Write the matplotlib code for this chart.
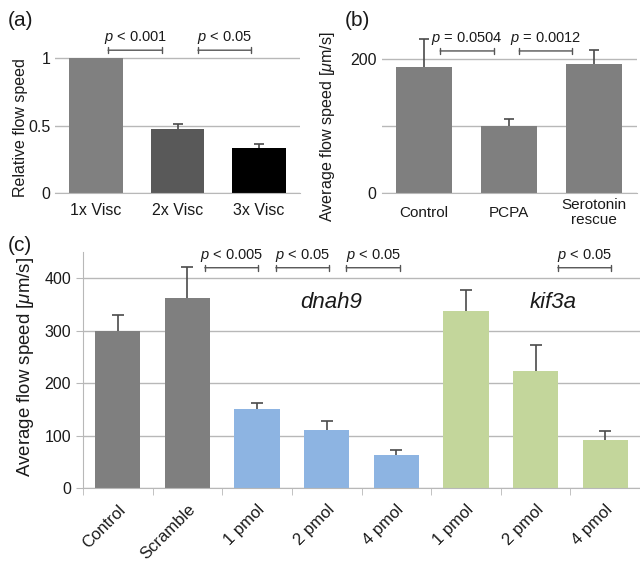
import numpy as np
import matplotlib
matplotlib.use("Agg")
import matplotlib.pyplot as plt

plt.rcParams["font.family"] = ["Liberation Sans", "DejaVu Sans"]
plt.rcParams["mathtext.fontset"] = "custom"
plt.rcParams["mathtext.it"] = "Liberation Sans:italic"
plt.rcParams["mathtext.rm"] = "Liberation Sans"

# panel (a)
visc_labels = ["1x Visc", "2x Visc", "3x Visc"]
visc_values = [1.0, 0.48, 0.335]
visc_err = [0.0, 0.035, 0.03]
visc_colors = ["#808080", "#595959", "#000000"]

# panel (b)
pcpa_labels = ["Control", "PCPA", "Serotonin\nrescue"]
pcpa_values = [188, 100, 193]
pcpa_err = [42, 11, 21]

# panel (c)
kd_labels = ["Control", "Scramble", "1 pmol", "2 pmol", "4 pmol", "1 pmol", "2 pmol", "4 pmol"]
kd_values = [300, 362, 150, 110, 62, 337, 223, 91]
kd_err = [29, 60, 13, 17, 10, 41, 50, 17]
kd_groups = ["ctrl", "ctrl", "dnah9", "dnah9", "dnah9", "kif3a", "kif3a", "kif3a"]
group_colors = {"ctrl": "#7f7f7f", "dnah9": "#8db4e2", "kif3a": "#c3d69b"}

GRID = "#b8b8b8"
ERR = "#4a4a4a"
TXT = "#1a1a1a"


def style_axes(ax):
    for s in ["top", "right", "left"]:
        ax.spines[s].set_visible(False)
    ax.spines["bottom"].set_color(GRID)
    ax.yaxis.grid(True, color=GRID, linewidth=1.0)
    ax.set_axisbelow(True)
    ax.tick_params(axis="both", length=0, colors=TXT, labelsize=11.5)


def bars_with_err(ax, x, vals, err, colors, width, cap=7):
    ax.bar(x, vals, width=width, color=colors)
    x = np.asarray(x)
    vals = np.asarray(vals, dtype=float)
    err = np.asarray(err, dtype=float)
    m = err > 0
    # one-sided error bars, cap only at the top
    ax.vlines(x[m], vals[m], vals[m] + err[m], color=ERR, lw=1.2)
    ax.plot(x[m], vals[m] + err[m], ls="none", marker="_", ms=cap, mew=1.2, color=ERR)


def bracket(ax, x0, x1, y, text):
    ax.annotate("", xy=(x0, y), xytext=(x1, y), xycoords="data",
                arrowprops=dict(arrowstyle="|-|, widthA=0.22, widthB=0.22",
                                color="#555555", lw=1.0, shrinkA=0, shrinkB=0),
                annotation_clip=False)
    ax.annotate(text, xy=((x0 + x1) / 2, y), xytext=(0, 3), textcoords="offset points",
                ha="center", va="bottom", fontsize=10.5, color=TXT,
                annotation_clip=False)


fig = plt.figure(figsize=(6.4, 5.63), dpi=100)

# ---- (a)
axa = fig.add_axes([55 / 640, 1 - 193.3 / 563, 245 / 640, 148.5 / 563])
xa = np.arange(len(visc_labels))
bars_with_err(axa, xa, visc_values, visc_err, visc_colors, 0.66)
style_axes(axa)
axa.set_xlim(-0.5, 2.5)
axa.set_ylim(0, 1.1)
axa.set_yticks([0, 0.5, 1])
axa.set_yticklabels(["0", "0.5", "1"])
axa.set_xticks(xa)
axa.set_xticklabels(visc_labels)
axa.tick_params(axis="x", pad=7)
axa.set_ylabel("Relative flow speed", fontsize=11.5, color=TXT)
axa.yaxis.set_label_coords(-0.11, 0.443)
bracket(axa, 0.15, 0.81, 1.06, r"$p$ < 0.001")
bracket(axa, 1.25, 1.9, 1.06, r"$p$ < 0.05")
fig.text(8 / 640, 1 - 21 / 563, "(a)", fontsize=15, va="center", color=TXT)

# ---- (b)
axb = fig.add_axes([381.5 / 640, 1 - 193.3 / 563, 255 / 640, 157.8 / 563])
xb = np.arange(len(pcpa_labels))
bars_with_err(axb, xb, pcpa_values, pcpa_err, "#7f7f7f", 0.66)
style_axes(axb)
axb.set_xlim(-0.5, 2.5)
axb.set_ylim(0, 235)
axb.set_yticks([0, 100, 200])
axb.set_yticklabels(["0", "", "200"])
axb.set_xticks(xb)
axb.set_xticklabels(pcpa_labels, fontsize=11, linespacing=1.05, va="center")
axb.tick_params(axis="x", pad=14)
axb.set_ylabel(r"Average flow speed [$\mu$m/s]", fontsize=11.6, color=TXT)
axb.yaxis.set_label_coords(-0.175, 0.42)
bracket(axb, 0.19, 0.82, 212, r"$p$ = 0.0504")
bracket(axb, 1.12, 1.74, 212, r"$p$ = 0.0012")
fig.text(345 / 640, 1 - 21 / 563, "(b)", fontsize=15, va="center", color=TXT)

# ---- (c)
axc = fig.add_axes([83 / 640, 1 - 488 / 563, 1 - 83 / 640, 236 / 563])
xc = np.arange(len(kd_labels))
bars_with_err(axc, xc, kd_values, kd_err, [group_colors[g] for g in kd_groups], 0.65, cap=8)
for s in ["top", "right"]:
    axc.spines[s].set_visible(False)
axc.spines["left"].set_color(GRID)
axc.spines["bottom"].set_color(GRID)
axc.yaxis.grid(True, color=GRID, linewidth=1.0)
axc.set_axisbelow(True)
axc.set_xlim(-0.5, 7.44)
axc.set_ylim(0, 450)
axc.set_yticks([0, 100, 200, 300, 400])
axc.tick_params(axis="y", length=5, color=GRID, labelcolor=TXT, labelsize=11.5)
axc.set_xticks(xc)
axc.set_xticklabels(kd_labels, rotation=45, ha="right", rotation_mode="anchor",
                    fontsize=12, color=TXT)
axc.tick_params(axis="x", which="major", length=0, pad=10)
axc.set_xticks(np.arange(-0.5, 8, 1), minor=True)
axc.tick_params(axis="x", which="minor", length=5, color=GRID)
axc.set_ylabel(r"Average flow speed [$\mu$m/s]", fontsize=13.4, color=TXT)
axc.yaxis.set_label_coords(-0.084, 0.513)
for x0, txt in [(1.25, r"$p$ < 0.005"), (2.27, r"$p$ < 0.05"),
                (3.28, r"$p$ < 0.05"), (6.32, r"$p$ < 0.05")]:
    bracket(axc, x0, x0 + 0.77, 420, txt)
axc.text(3.06, 353, "dnah9", style="italic", fontsize=16, ha="center", va="center", color=TXT)
axc.text(6.25, 353, "kif3a", style="italic", fontsize=16, ha="center", va="center", color=TXT)
fig.text(8 / 640, 1 - 246 / 563, "(c)", fontsize=15, va="center", color=TXT)

fig.savefig("out.png", dpi=100)
